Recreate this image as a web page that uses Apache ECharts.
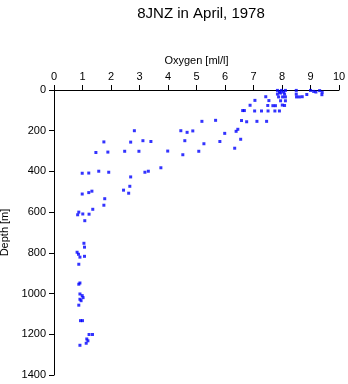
<!DOCTYPE html>
<html>
<head>
<meta charset="utf-8">
<script src="https://cdn.jsdelivr.net/npm/echarts@6/dist/echarts.min.js"></script>
<style>
  html, body { margin: 0; padding: 0; background: #fff; }
  #chart { width: 348px; height: 384px; }
</style>
</head>
<body>
<div id="chart"></div>
<script>
// Station 8JNZ, April 1978: dissolved oxygen profile
const titleText = '8JNZ in April, 1978';
const xName = 'Oxygen [ml/l]';
const yName = 'Depth [m]';
const oxygenTicks = [0, 1, 2, 3, 4, 5, 6, 7, 8, 9, 10];
const depthTicks = [0, 200, 400, 600, 800, 1000, 1200, 1400];

// Oxygen concentration [ml/l] for each sample
const oxygen = [
  7.84, 7.98, 8.12, 7.84, 7.95, 8.09, 7.88, 8.02, 8.12, 7.91, 8.05,
  8.50, 8.50, 8.51, 8.61, 8.71, 8.87, 9.00, 9.11, 9.19, 9.32, 9.41, 9.40,
  7.05, 7.43, 7.54, 7.95, 8.12,
  6.88, 7.50, 7.68, 7.77, 8.01, 8.09,
  6.62, 6.68, 7.04, 7.28, 7.51, 7.75, 7.91,
  5.19, 5.67, 6.58, 6.76, 7.12, 7.46,
  2.82, 4.45, 4.67, 4.87, 5.99, 6.39, 6.45,
  1.75, 2.69, 3.12, 3.40, 4.59, 5.26, 5.82, 6.55,
  1.47, 1.89, 2.48, 2.98, 3.99, 4.52, 5.08, 6.34,
  0.99, 1.22, 1.57, 1.92, 2.69, 3.19, 3.31, 3.75,
  0.99, 1.22, 1.33, 1.78, 2.44, 2.66, 2.62, 1.75, 1.36,
  0.87, 0.83, 1.01, 1.23, 1.08,
  1.05, 1.07, 0.81, 0.86, 0.91, 1.07, 0.87,
  0.91, 0.87, 0.91, 0.99, 1.02, 0.91, 0.95, 0.87,
  0.93, 1.00, 1.23, 1.35, 1.15, 1.19, 1.13, 0.91
];

// Sample depth [m], paired with the oxygen values above
const depth = [
  2, 2, 2, 20, 15, 20, 34, 34, 34, 10, 10,
  2, 20, 34, 34, 33, 22, 2, 7, 10, 3, 11, 23,
  51, 33, 52, 53, 53,
  75, 76, 77, 77, 74, 76,
  101, 101, 103, 103, 103, 103, 103,
  154, 149, 150, 156, 154, 154,
  200, 200, 208, 201, 213, 203, 193,
  255, 256, 249, 253, 249, 264, 253, 242,
  307, 305, 301, 301, 300, 318, 301, 286,
  409, 408, 399, 404, 427, 404, 399, 382,
  511, 504, 497, 534, 492, 473, 507, 566, 586,
  600, 613, 609, 610, 642,
  753, 772, 797, 807, 821, 817, 856,
  948, 954, 1002, 1010, 1020, 1028, 1035, 1057,
  1133, 1133, 1201, 1201, 1223, 1232, 1244, 1254
];

const points = oxygen.map((v, i) => [v, depth[i]]);

const font = 'Liberation Sans, Arial, Helvetica, sans-serif';
const axisLine = { show: true, lineStyle: { color: '#000', width: 1 } };
const axisTick = { show: true, length: 5, inside: false, lineStyle: { color: '#000', width: 1 } };

const chart = echarts.init(document.getElementById('chart'), null, { renderer: 'canvas' });
chart.setOption({
  animation: false,
  backgroundColor: '#fff',
  title: {
    text: titleText,
    left: 196,
    textAlign: 'center',
    top: 1,
    textStyle: { fontFamily: font, fontSize: 15, fontWeight: 'normal', color: '#000' }
  },
  grid: {
    left: 54, right: 9, top: 90, bottom: 9,
    containLabel: false,
    outerBoundsMode: 'none'
  },
  xAxis: {
    type: 'value',
    position: 'top',
    min: oxygenTicks[0],
    max: oxygenTicks[oxygenTicks.length - 1],
    interval: 1,
    name: xName,
    nameLocation: 'middle',
    nameGap: 23,
    nameTextStyle: { fontFamily: font, fontSize: 11, color: '#000' },
    axisLine: axisLine,
    axisTick: axisTick,
    axisLabel: { fontFamily: font, fontSize: 11, color: '#000', margin: 8, formatter: v => String(v) },
    splitLine: { show: false }
  },
  yAxis: {
    type: 'value',
    inverse: true,
    min: depthTicks[0],
    max: depthTicks[depthTicks.length - 1],
    interval: 200,
    name: yName,
    nameLocation: 'middle',
    nameGap: 39,
    nameRotate: 90,
    nameTextStyle: { fontFamily: font, fontSize: 11, color: '#000' },
    axisLine: axisLine,
    axisTick: axisTick,
    axisLabel: { fontFamily: font, fontSize: 11, color: '#000', margin: 8, formatter: v => String(v) },
    splitLine: { show: false }
  },
  series: [{
    type: 'scatter',
    data: points,
    symbol: 'rect',
    symbolSize: 3,
    itemStyle: { color: '#0000ff' },
    silent: true
  }]
});
</script>
</body>
</html>
